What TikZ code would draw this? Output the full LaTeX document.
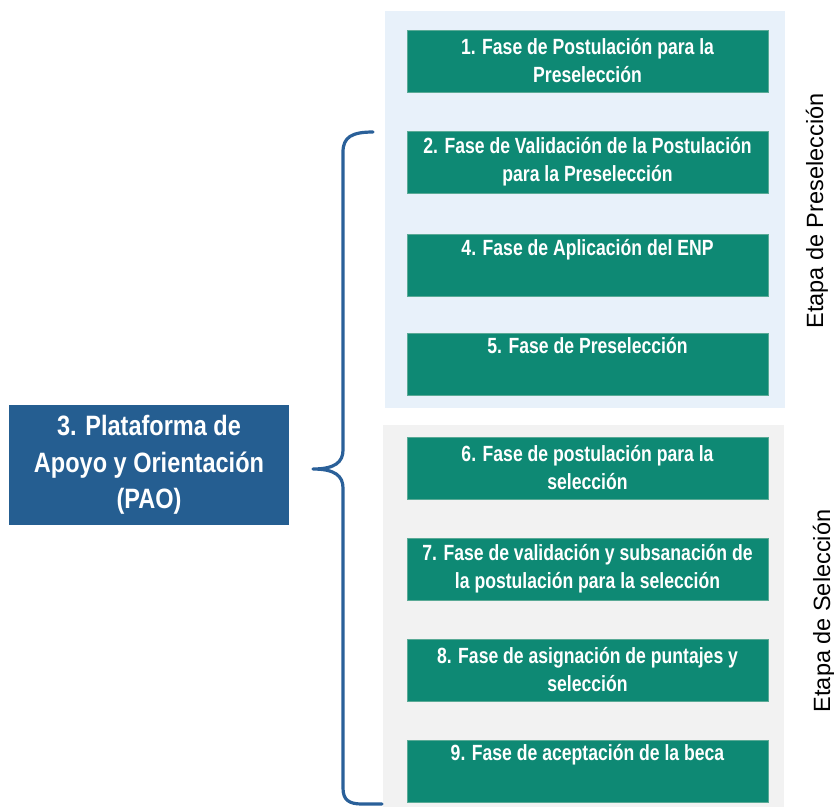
\documentclass[tikz,border=0pt]{standalone}
\usepackage{fontspec}
\setmainfont{Liberation Sans}
\newfontfamily\boxfont{Liberation Sans}[FakeStretch=0.80]
\newfontfamily\paofont{Liberation Sans}[FakeStretch=0.84]
\usepackage{tikz}
\usetikzlibrary{positioning}

\definecolor{faseverde}{RGB}{14,137,116}
\definecolor{faseborde}{RGB}{90,170,150}
\definecolor{paoazul}{RGB}{37,94,145}
\definecolor{bracea}{RGB}{42,96,153}
\definecolor{fondoazul}{RGB}{232,241,250}
\definecolor{fondogris}{RGB}{242,242,242}

\tikzset{
  fase/.style={draw=faseborde, fill=faseverde, text=white, line width=0.8pt,
    minimum width=361, minimum height=62, inner sep=0pt, align=center,
    font=\boxfont\bfseries\fontsize{22}{28}\selectfont},
  pao/.style={fill=paoazul, text=white, minimum width=280, minimum height=120,
    inner sep=0pt, align=center, font=\paofont\bfseries\fontsize{28}{36.5}\selectfont},
  etapa/.style={rotate=90, font=\fontsize{23.5}{28}\selectfont},
  llave/.style={draw=bracea, line width=3.2pt, line cap=round, line join=round}
}

\begin{document}
\begin{tikzpicture}[x=1pt,y=-1pt]
\useasboundingbox (0,0) rectangle (834,807);

% fondos de las etapas
\fill[fondoazul] (385,11) rectangle (785,408);
\fill[fondogris] (383,425) rectangle (784,807);

% plataforma
\node[pao] (pao) at (149,465) {3. Plataforma de\\Apoyo y Orientaci\'on\\(PAO)};

% fases
\node[fase] (f1) at (587.5,61) {1. Fase de Postulaci\'on para la\\Preselecci\'on};
\node[fase] (f2) at (587.5,162) {2. Fase de Validaci\'on de la Postulaci\'on\\para la Preselecci\'on};
\node[fase] (f4) at (587.5,265.5) {4. Fase de Aplicaci\'on del ENP\\\strut};
\node[fase] (f5) at (587.5,364) {5. Fase de Preselecci\'on\\\strut};
\node[fase] (f6) at (587.5,468) {6. Fase de postulaci\'on para la\\selecci\'on};
\node[fase] (f7) at (587.5,569) {7. Fase de validaci\'on y subsanaci\'on de\\la postulaci\'on para la selecci\'on};
\node[fase] (f8) at (587.5,670) {8. Fase de asignaci\'on de puntajes y\\selecci\'on};
\node[fase] (f9) at (587.5,771) {9. Fase de aceptaci\'on de la beca\\\strut};

% etapas
\node[etapa] (pre) at (817,211) {Etapa de Preselecci\'on};
\node[etapa] (sel) at (824,611) {Etapa de Selecci\'on};

% llave
\coordinate (ltop) at (373,132);
\coordinate (lpunta) at (313,469);
\coordinate (lbot) at (382,804);
\draw[llave] (ltop) .. controls (352,132) and (343,137) .. (343,152)
  -- (343,450) .. controls (343,462) and (335,469) .. (lpunta)
  .. controls (335,469) and (343,476) .. (343,488)
  -- (343,788) .. controls (343,800) and (349,804) .. (362,804) -- (lbot);

\end{tikzpicture}
\end{document}
